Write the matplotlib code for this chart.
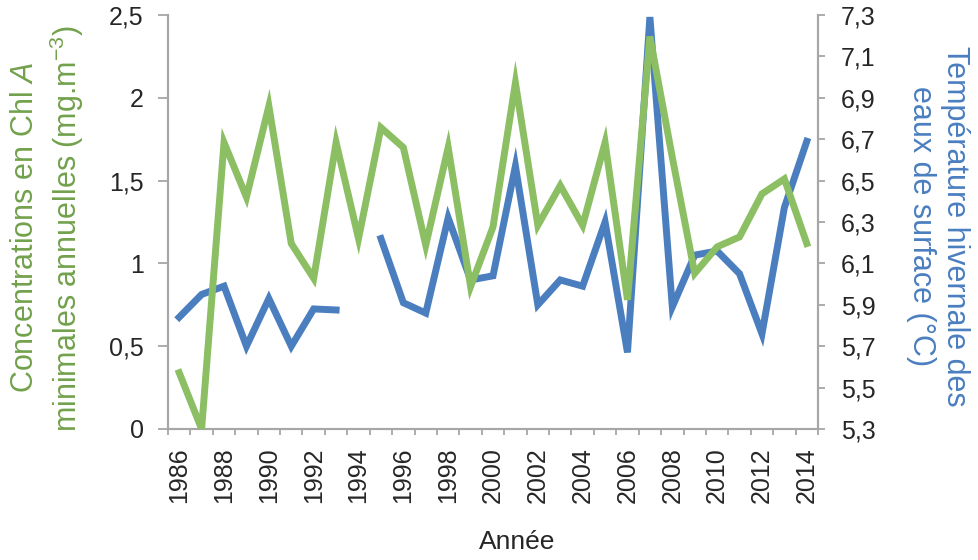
import numpy as np
import matplotlib
matplotlib.use("Agg")
import matplotlib.pyplot as plt
from matplotlib.ticker import FixedLocator, FuncFormatter

plt.rcParams["font.family"] = ["Liberation Sans", "DejaVu Sans"]
plt.rcParams["mathtext.fontset"] = "custom"
plt.rcParams["mathtext.rm"] = "Liberation Sans"
plt.rcParams["mathtext.it"] = "Liberation Sans:italic"

years = np.arange(1986, 2015)

# minimum annual chlorophyll a (mg.m-3)
chl_a = [0.34, 0.00, 1.73, 1.40, 1.95, 1.12, 0.91, 1.73, 1.15, 1.82,
         1.70, 1.11, 1.70, 0.86, 1.22, 2.09, 1.23, 1.47, 1.23, 1.73,
         0.78, 2.37, 1.64, 0.94, 1.10, 1.16, 1.42, 1.51, 1.12]

# winter surface water temperature (°C), no value for 1994
temp = [5.84, 5.95, 5.99, 5.70, 5.93, 5.70, 5.88, 5.875, np.nan, 6.22,
        5.91, 5.86, 6.32, 6.02, 6.04, 6.57, 5.90, 6.02, 5.99, 6.30,
        5.67, 7.29, 5.89, 6.14, 6.16, 6.05, 5.76, 6.37, 6.69]

chl_ticks = [0, 0.5, 1, 1.5, 2, 2.5]
temp_ticks = [5.3, 5.5, 5.7, 5.9, 6.1, 6.3, 6.5, 6.7, 6.9, 7.1, 7.3]
year_labels = list(range(1986, 2015, 2))

green = "#8cbf64"
blue = "#4a7ebf"
axis_grey = "#a6a6a6"
text_dark = "#262626"


def comma(v, pos=None):
    s = f"{v:g}"
    return s.replace(".", ",")


fig = plt.figure(figsize=(9.79, 5.6), dpi=100)
ax = fig.add_axes([168 / 979, 1 - 429 / 560, 650 / 979, 414 / 560])
ax2 = ax.twinx()

ax2.plot(years, temp, color=blue, lw=5, solid_joinstyle="miter", zorder=2)
ax.plot(years, chl_a, color=green, lw=5, solid_joinstyle="miter", zorder=3)
ax.set_zorder(ax2.get_zorder() + 1)
ax.patch.set_visible(False)

ax.set_xlim(1985.5, 2014.5)
ax.set_ylim(0, 2.5)
ax2.set_ylim(5.3, 7.3)

ax.set_yticks(chl_ticks)
ax.yaxis.set_major_formatter(FuncFormatter(comma))
ax2.set_yticks(temp_ticks)
ax2.yaxis.set_major_formatter(FuncFormatter(comma))

# ticks between years, labels on every second year
ax.xaxis.set_major_locator(FixedLocator(np.arange(1985.5, 2015, 1)))
ax.xaxis.set_major_formatter(FuncFormatter(lambda v, p: ""))
ax.xaxis.set_minor_locator(FixedLocator(year_labels))
ax.xaxis.set_minor_formatter(FuncFormatter(lambda v, p: f"{int(v)}"))
ax.tick_params(axis="x", which="major", length=4.5, width=1.3,
               color=axis_grey, direction="out")
ax.tick_params(axis="x", which="minor", length=0, pad=13,
               labelsize=18, labelrotation=90, labelcolor=text_dark)

ax.tick_params(axis="y", length=7, width=1.3, color=axis_grey, pad=10.5,
               labelsize=18, labelcolor=text_dark)
ax2.tick_params(axis="y", length=5, width=1.3, color=axis_grey, pad=11.5,
                labelsize=18, labelcolor=text_dark)

for a in (ax, ax2):
    a.spines["top"].set_visible(False)
    for side in ("left", "right", "bottom"):
        a.spines[side].set_color(axis_grey)
        a.spines[side].set_linewidth(1.5)

fig.text(48 / 979, 1 - 228 / 560,
         "Concentrations en Chl $\\mathit{A}$\n"
         "minimales annuelles (mg.m$^{-3}$)",
         rotation=90, ha="center", va="center", multialignment="center",
         fontsize=22, color="#72a14c", linespacing=1.25)
fig.text(938 / 979, 1 - 226 / 560,
         "Température hivernale des\neaux de surface (°C)",
         rotation=-90, ha="center", va="center", multialignment="center",
         fontsize=22, color=blue, linespacing=1.15)
fig.text(517 / 979, 1 - 542 / 560, "Année", ha="center", va="center",
         fontsize=19, color=text_dark)

fig.savefig("out.png", dpi=100)
